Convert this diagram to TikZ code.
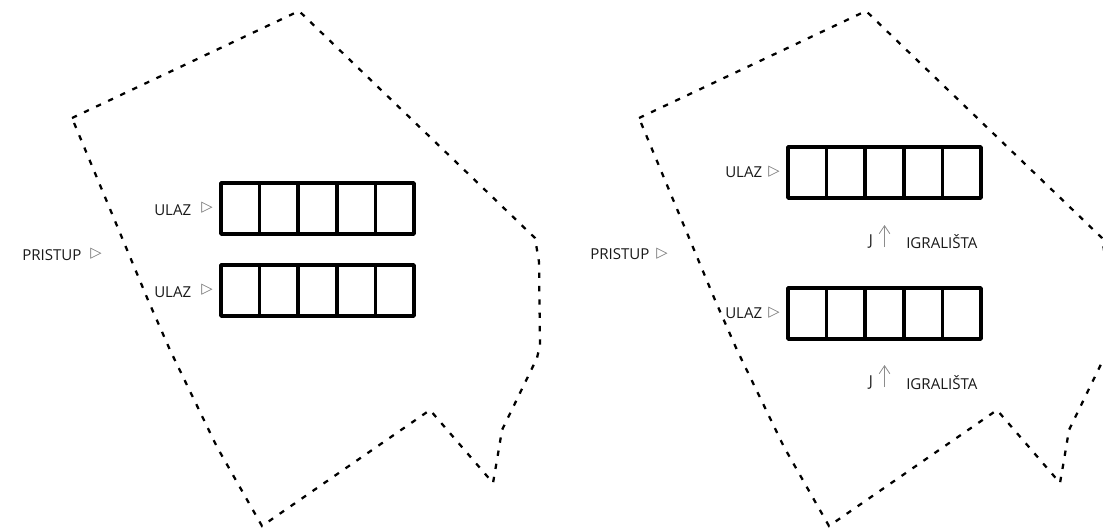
\documentclass[tikz,border=0pt]{standalone}
\usepackage{fontspec}
\usetikzlibrary{arrows.meta}
\setmainfont{Open Sans}
\newfontfamily\symfont{DejaVu Sans}
\tikzset{
    plot/.style={line width=1.7pt, dash pattern=on 4pt off 6pt},
    strip/.style={line width=2.7pt, line join=round, line cap=round},
    label/.style={font=\fontsize{11.3pt}{13pt}\selectfont, text=black!90, inner sep=0pt},
    tick/.style={font=\symfont\fontsize{11pt}{13pt}\selectfont, text=black!55, inner sep=0pt},
    lift/.style={draw=black!45, line width=.6pt, -{Straight Barb[length=6pt,width=8pt]}}
}
\newcommand{\plotoutline}[1]{%
    \draw [plot, shift={(#1,0)}] (72,118) -- (299,11) -- (535,238) -- (539,262) -- (540,345) -- (537,358) -- (502,430) -- (497,460) -- (493,483) -- (430,410) -- (262,526) -- (217,447) -- (170,350) -- (148,300) -- cycle;
}
\newcommand{\entrystrip}[2]{%
    \draw [strip] (#1,#2) rectangle +(193,51);
    \foreach \i in {1,...,4} {
        \draw [strip] (#1+\i*38.6,#2) -- +(0,51);
    }
}
\begin{document}
\begin{tikzpicture}[x=.75pt,y=-.75pt]
    \useasboundingbox (0,0) rectangle (1103,529);
    % left plot
    \plotoutline{0}
    \entrystrip{221}{183}
    \entrystrip{221}{265}
    \node [label, anchor=west] (accessA) at (22,255) {PRISTUP};
    \node [tick] (accessAtick) at (96,254) {▷};
    \node [label, anchor=west] (gateA) at (154,210) {ULAZ};
    \node [tick] (gateAtick) at (207,208) {▷};
    \node [label, anchor=west] (gateB) at (154,292) {ULAZ};
    \node [tick] (gateBtick) at (207,290) {▷};
    % right plot
    \plotoutline{567}
    \entrystrip{788}{147}
    \entrystrip{788}{288}
    \node [label, anchor=west] (accessB) at (590,254) {PRISTUP};
    \node [tick] (accessBtick) at (662,254) {▷};
    \node [label, anchor=west] (gateC) at (725,172) {ULAZ};
    \node [tick] (gateCtick) at (774,172) {▷};
    \node [label, anchor=west] (gateD) at (725,313) {ULAZ};
    \node [tick] (gateDtick) at (774,313) {▷};
    \node [label] (jA) at (871,242) {J};
    \coordinate (liftAa) at (884.5,247);
    \coordinate (liftAb) at (884.5,225);
    \draw [lift] (liftAa) -- (liftAb);
    \node [label, anchor=west] (fieldA) at (906,242) {IGRALIŠTA};
    \node [label] (jB) at (871,383) {J};
    \coordinate (liftBa) at (884.5,387);
    \coordinate (liftBb) at (884.5,365);
    \draw [lift] (liftBa) -- (liftBb);
    \node [label, anchor=west] (fieldB) at (906,383) {IGRALIŠTA};
\end{tikzpicture}
\end{document}
